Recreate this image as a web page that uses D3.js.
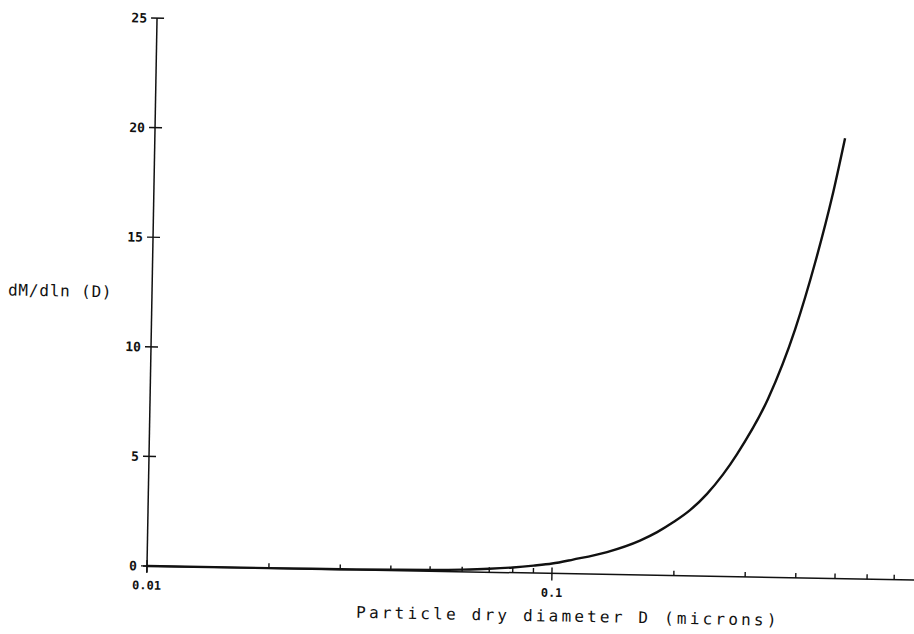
<!DOCTYPE html>
<html>
<head>
<meta charset="utf-8">
<script src="https://cdn.jsdelivr.net/npm/d3@7"></script>
<style>
  body { margin: 0; background: #fff; }
  svg { display: block; }
</style>
</head>
<body>
<svg id="chart" width="914" height="634"></svg>
<script>
// Mass size distribution of the dry aerosol
const diameter = [0.01, 0.02, 0.03, 0.04, 0.05, 0.06, 0.07, 0.08, 0.09, 0.1,
  0.1126, 0.1365, 0.1644, 0.1811, 0.1981, 0.2178, 0.2395, 0.2618, 0.2829,
  0.3355, 0.3886, 0.4323, 0.4727, 0.5058];
const dMdlnD = [0, 0.005, 0.015, 0.035, 0.06, 0.1, 0.16, 0.24, 0.34, 0.45,
  0.65, 1.02, 1.57, 1.97, 2.43, 3.0, 3.76, 4.66, 5.6,
  8.15, 11.35, 14.4, 17.4, 20.1];

const yTicks = [0, 5, 10, 15, 20, 25];
const xMajor = [0.01, 0.1];
const xMinor = [0.02, 0.03, 0.04, 0.05, 0.06, 0.07, 0.08, 0.09,
  0.2, 0.3, 0.4, 0.5, 0.6, 0.7];
const xTickLabels = ["0.01", "0.1"];
const xTitle = "Particle dry diameter D (microns)";
const yTitle = "dM/dln (D)";

const decade = 405;            // pixels per factor of ten
const H = 548;
const xMax = 0.8;
const W = decade * Math.log10(xMax / 0.01);

const x = d3.scaleLog().domain([0.01, xMax]).range([0, W]);
const y = d3.scaleLinear().domain([0, 25]).range([H, 0]);

const svg = d3.select("#chart");
// plotter sheet sits slightly askew
const plot = svg.append("g")
  .attr("transform", `translate(147,566) rotate(1.05) translate(0,${-H})`);

const ink = "#111";
const mono = "'DejaVu Sans Mono', 'Liberation Mono', monospace";

// x axis
const xAxis = plot.append("g")
  .attr("transform", `translate(0,${H})`)
  .call(d3.axisBottom(x)
    .tickValues(xMajor.concat(xMinor))
    .tickFormat(d => {
      const i = xMajor.indexOf(d);
      return i >= 0 ? xTickLabels[i] : "";
    })
    .tickSizeOuter(0)
    .offset(0));
xAxis.select(".domain").remove();
xAxis.append("line")
  .attr("x1", -4).attr("x2", W)
  .attr("stroke", ink).attr("stroke-width", 1.5);
xAxis.selectAll(".tick line")
  .attr("stroke", ink).attr("stroke-width", 1.4)
  .attr("y1", d => xMajor.includes(d) ? -6 : 0)
  .attr("y2", d => xMajor.includes(d) ? 7 : -5);
xAxis.selectAll(".tick text")
  .attr("y", 23.5).attr("dy", 0)
  .attr("fill", ink)
  .style("font-family", mono).style("font-size", "12px").style("font-weight", "bold");

// y axis
const yAxis = plot.append("g")
  .call(d3.axisLeft(y).tickValues(yTicks).tickFormat(d3.format("d")).tickSizeOuter(0).offset(0));
yAxis.select(".domain").remove();
yAxis.append("line")
  .attr("y1", 0).attr("y2", H + 6)
  .attr("stroke", ink).attr("stroke-width", 1.5);
yAxis.selectAll(".tick line")
  .attr("stroke", ink).attr("stroke-width", 1.4)
  .attr("x1", -6).attr("x2", 7);
yAxis.selectAll(".tick text")
  .attr("x", -10).attr("dy", "0.36em")
  .attr("fill", ink)
  .style("font-family", mono).style("font-size", "13px").style("font-weight", "bold");

// distribution curve
const line = d3.line()
  .x((d, i) => x(diameter[i]))
  .y(d => y(d))
  .curve(d3.curveMonotoneX);
plot.append("path")
  .datum(dMdlnD)
  .attr("d", line)
  .attr("fill", "none")
  .attr("stroke", ink)
  .attr("stroke-width", 2.4)
  .attr("stroke-linejoin", "round");

// axis titles
plot.append("text")
  .attr("x", 210).attr("y", H + 48)
  .attr("fill", ink)
  .style("font-family", mono).style("font-size", "16px")
  .style("letter-spacing", "3.2px")
  .text(xTitle);

plot.append("text")
  .attr("x", -144).attr("y", H - 268)
  .attr("fill", ink)
  .style("font-family", mono).style("font-size", "16px")
  .style("letter-spacing", "0.8px")
  .text(yTitle);
</script>
</body>
</html>
